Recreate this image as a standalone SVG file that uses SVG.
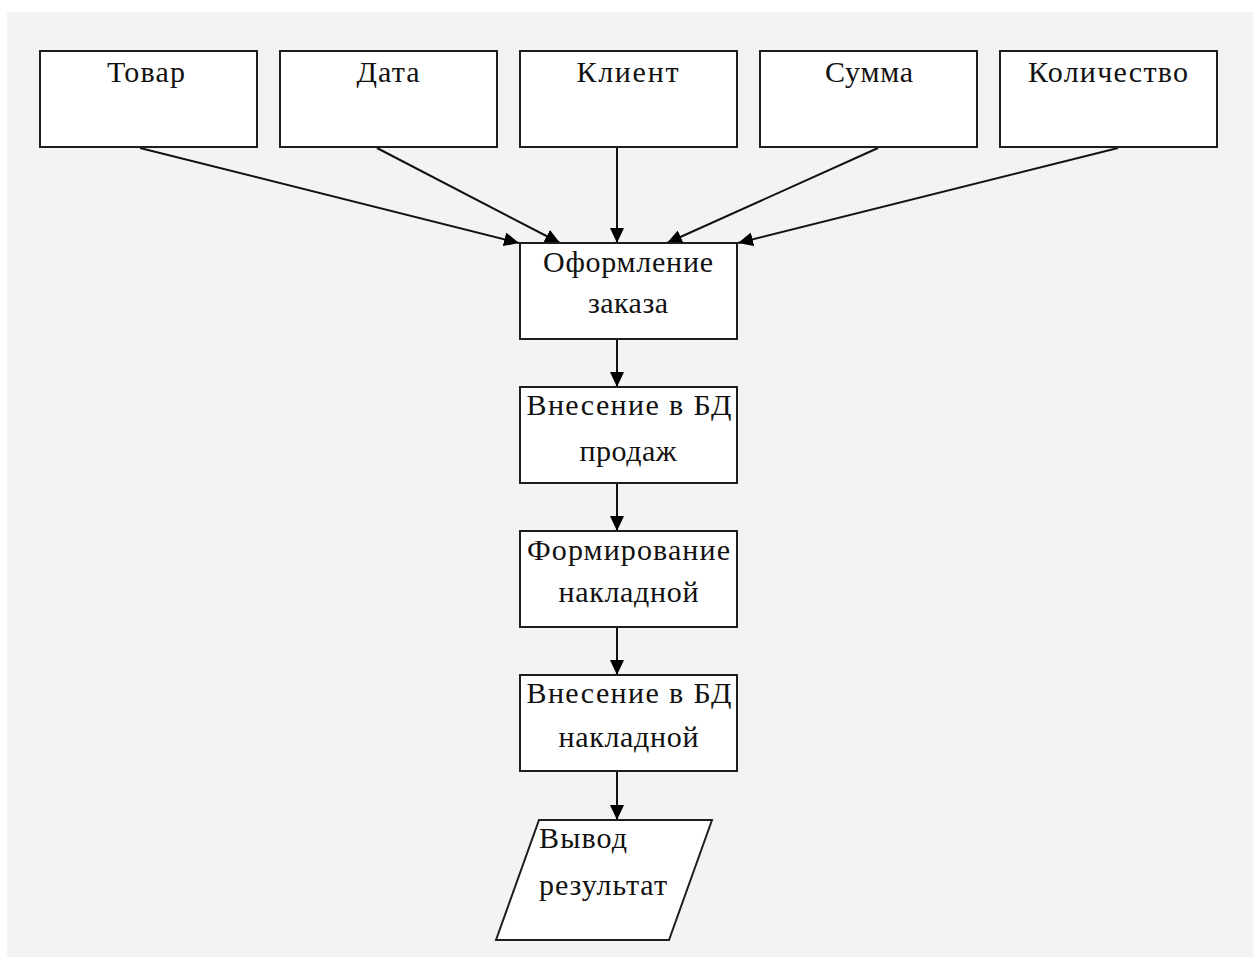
<svg xmlns="http://www.w3.org/2000/svg" width="1253" height="962" viewBox="0 0 1253 962">
<style>
.box{fill:#ffffff;stroke:#1e1e1e;stroke-width:2}
.t{font-family:"Liberation Serif","Times New Roman",serif;font-size:30px;fill:#111111;text-anchor:middle}
.tl{font-family:"Liberation Serif","Times New Roman",serif;font-size:30px;fill:#111111}
.c{stroke:#111111;stroke-width:2;fill:none;marker-end:url(#ah)}
</style>
<defs>
<marker id="ah" markerUnits="userSpaceOnUse" markerWidth="16" markerHeight="14" viewBox="0 0 16 14" refX="15" refY="7" orient="auto">
<path d="M0,0 L15,7 L0,14 Z" fill="#000000"/>
</marker>
</defs>
<rect x="0" y="0" width="1253" height="962" fill="#ffffff"/>
<rect x="7" y="12" width="1246" height="945" fill="#f3f3f3"/>
<g id="connectors">
<line class="c" x1="140" y1="148" x2="519" y2="243"/>
<line class="c" x1="377" y1="148" x2="560" y2="243"/>
<line class="c" x1="617" y1="148" x2="617" y2="243"/>
<line class="c" x1="878" y1="148" x2="667" y2="243"/>
<line class="c" x1="1118" y1="148" x2="738" y2="243"/>
<line class="c" x1="617" y1="339" x2="617" y2="387"/>
<line class="c" x1="617" y1="483" x2="617" y2="531"/>
<line class="c" x1="617" y1="627" x2="617" y2="675"/>
<line class="c" x1="617" y1="771" x2="617" y2="820"/>
</g>
<g id="n-tovar"><rect class="box" x="40" y="51" width="217" height="96"/><text class="t" x="146" y="82" textLength="78">Товар</text></g>
<g id="n-data"><rect class="box" x="280" y="51" width="217" height="96"/><text class="t" x="388" y="82" textLength="63">Дата</text></g>
<g id="n-klient"><rect class="box" x="520" y="51" width="217" height="96"/><text class="t" x="627.5" y="82" textLength="102">Клиент</text></g>
<g id="n-summa"><rect class="box" x="760" y="51" width="217" height="96"/><text class="t" x="869" y="82" textLength="88">Сумма</text></g>
<g id="n-kolichestvo"><rect class="box" x="1000" y="51" width="217" height="96"/><text class="t" x="1108" y="82" textLength="160">Количество</text></g>
<g id="n-oformlenie"><rect class="box" x="520" y="243" width="217" height="96"/><text class="t" x="628" y="272" textLength="170">Оформление</text><text class="t" x="628" y="313" textLength="80">заказа</text></g>
<g id="n-vnesenie-prodazh"><rect class="box" x="520" y="387" width="217" height="96"/><text class="t" x="629" y="415" textLength="205">Внесение в БД</text><text class="t" x="628" y="461" textLength="97">продаж</text></g>
<g id="n-formirovanie"><rect class="box" x="520" y="531" width="217" height="96"/><text class="t" x="628.5" y="560" textLength="203">Формирование</text><text class="t" x="628.5" y="602" textLength="140">накладной</text></g>
<g id="n-vnesenie-nakladnoy"><rect class="box" x="520" y="675" width="217" height="96"/><text class="t" x="629" y="703" textLength="205">Внесение в БД</text><text class="t" x="628.5" y="747" textLength="140">накладной</text></g>
<g id="n-vyvod"><polygon class="box" points="539,820 712,820 669,940 496,940"/><text class="tl" x="539" y="848" textLength="88">Вывод</text><text class="tl" x="539" y="895" textLength="128">результат</text></g>
</svg>
